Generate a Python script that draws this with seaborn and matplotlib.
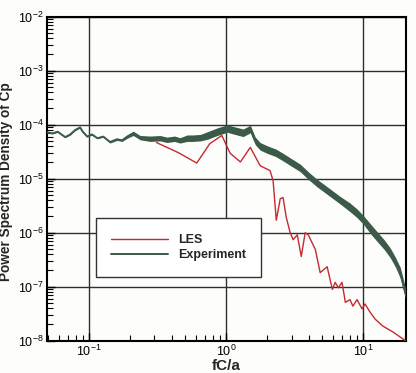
import numpy as np
import pandas as pd
import matplotlib
matplotlib.use("Agg")
import matplotlib.pyplot as plt
import seaborn as sns

# Experiment: frequency, log10(PSD), half band width (decades) of the noisy trace
exp_f = [0.049, 0.054, 0.059, 0.067, 0.073, 0.079, 0.086, 0.09, 0.097, 0.105,
         0.115, 0.127, 0.142, 0.16, 0.174, 0.19, 0.21, 0.236, 0.28, 0.33,
         0.37, 0.42, 0.46, 0.52, 0.57, 0.65, 0.73, 0.86, 1.02, 1.12,
         1.33, 1.5, 1.63, 1.77, 1.99, 2.3, 2.6, 3.0, 3.47, 4.0,
         4.6, 5.2, 5.8, 6.8, 8.0, 9.0, 10.0, 11.3, 12.7, 14.2,
         15.7, 17.2, 18.6, 19.4, 20.3]
exp_log = [-4.14, -4.16, -4.13, -4.23, -4.18, -4.10, -4.05, -4.13, -4.22, -4.18,
           -4.25, -4.22, -4.32, -4.27, -4.29, -4.22, -4.16, -4.24, -4.26, -4.25,
           -4.28, -4.26, -4.29, -4.25, -4.25, -4.24, -4.20, -4.13, -4.07, -4.10,
           -4.15, -4.08, -4.30, -4.40, -4.46, -4.52, -4.60, -4.70, -4.80, -4.95,
           -5.08, -5.18, -5.27, -5.40, -5.53, -5.64, -5.76, -5.93, -6.08, -6.22,
           -6.37, -6.55, -6.74, -6.92, -7.12]
exp_band = [0.01, 0.01, 0.01, 0.01, 0.01, 0.01, 0.01, 0.01, 0.01, 0.01,
            0.01, 0.01, 0.02, 0.02, 0.02, 0.03, 0.04, 0.04, 0.05, 0.05,
            0.05, 0.05, 0.05, 0.06, 0.06, 0.06, 0.07, 0.07, 0.07, 0.07,
            0.07, 0.07, 0.07, 0.07, 0.07, 0.07, 0.07, 0.07, 0.07, 0.07,
            0.07, 0.07, 0.07, 0.07, 0.08, 0.08, 0.08, 0.09, 0.09, 0.09,
            0.09, 0.09, 0.10, 0.10, 0.10]

# LES
les_f = [0.31, 0.45, 0.61, 0.76, 0.93, 1.07, 1.27, 1.5, 1.77, 2.09,
         2.2, 2.32, 2.48, 2.6, 2.74, 2.93, 3.08, 3.3, 3.53, 3.77,
         3.97, 4.47, 4.85, 5.45, 5.95, 6.24, 6.57, 7.0, 7.4, 8.0,
         8.4, 9.0, 9.8, 10.3, 11.2, 12.2, 13.9, 16.5, 20.3]
les_log = [-4.33, -4.52, -4.71, -4.35, -4.20, -4.53, -4.69, -4.42, -4.76, -4.85,
           -5.04, -5.77, -5.37, -5.35, -5.71, -6.00, -6.13, -6.04, -6.44, -6.00,
           -6.04, -6.31, -6.74, -6.63, -7.05, -6.92, -7.02, -6.92, -7.29, -7.24,
           -7.36, -7.24, -7.41, -7.32, -7.47, -7.60, -7.73, -7.84, -8.00]

exp_df = pd.DataFrame({"f": exp_f, "psd": np.power(10.0, exp_log)})
les_df = pd.DataFrame({"f": les_f, "psd": np.power(10.0, les_log)})

red = "#c42a30"
green = "#3c5a48"

sns.set_style("white")
plt.rcParams["font.family"] = ["Liberation Sans", "DejaVu Sans"]

fig = plt.figure(figsize=(4.16, 3.73), dpi=100, facecolor="#fdfdfb")
ax = fig.add_axes([0.112, 0.0866, 0.864, 0.8686])
ax.set_facecolor("#fdfdfb")

ax.set_xscale("log")
ax.set_yscale("log")
ax.set_xlim(0.049, 20.5)
ax.set_ylim(1e-8, 1e-2)

# noisy experiment trace drawn as a thick band
lo = np.power(10.0, np.array(exp_log) - np.array(exp_band))
hi = np.power(10.0, np.array(exp_log) + np.array(exp_band))
ax.fill_between(exp_f, lo, hi, color=green, lw=0, zorder=3)

sns.lineplot(data=les_df, x="f", y="psd", ax=ax, color=red, lw=1.0,
             label="LES", zorder=4, sort=False)
sns.lineplot(data=exp_df, x="f", y="psd", ax=ax, color=green, lw=1.4,
             label="Experiment", zorder=3, sort=False)

ax.grid(True, which="major", color="#2f2f2f", lw=1.0)
ax.grid(False, which="minor")
ax.set_axisbelow(True)
for s in ax.spines.values():
    s.set_color("black")
    s.set_linewidth(1.5)

ax.tick_params(which="both", direction="in", left=True, bottom=True,
               top=False, right=False, labelsize=9, colors="black")
ax.tick_params(which="major", length=6, width=1, pad=2)
ax.tick_params(which="minor", length=4, width=0.8)
ax.yaxis.set_minor_locator(matplotlib.ticker.LogLocator(base=10, subs=np.arange(2, 10), numticks=20))
ax.xaxis.set_minor_locator(matplotlib.ticker.LogLocator(base=10, subs=np.arange(2, 10), numticks=20))
ax.yaxis.set_minor_formatter(matplotlib.ticker.NullFormatter())
ax.xaxis.set_minor_formatter(matplotlib.ticker.NullFormatter())

ax.set_xlabel("fC/a", fontsize=11, fontweight="bold", labelpad=0)
ax.set_ylabel("Power Spectrum Density of Cp", fontsize=9.8, fontweight="bold")
ax.yaxis.set_label_coords(-0.093, 0.49)

leg = ax.legend(loc="lower left", bbox_to_anchor=(0.137, 0.197), frameon=True,
                fancybox=False, edgecolor="#333333", framealpha=1,
                prop={"weight": "bold", "size": 9}, handlelength=4.5,
                handletextpad=0.8, labelspacing=0.25, borderpad=1.25,
                borderaxespad=0)
leg.get_frame().set_linewidth(1.0)
leg.set_zorder(6)

fig.savefig("out.png", dpi=100, facecolor=fig.get_facecolor())
